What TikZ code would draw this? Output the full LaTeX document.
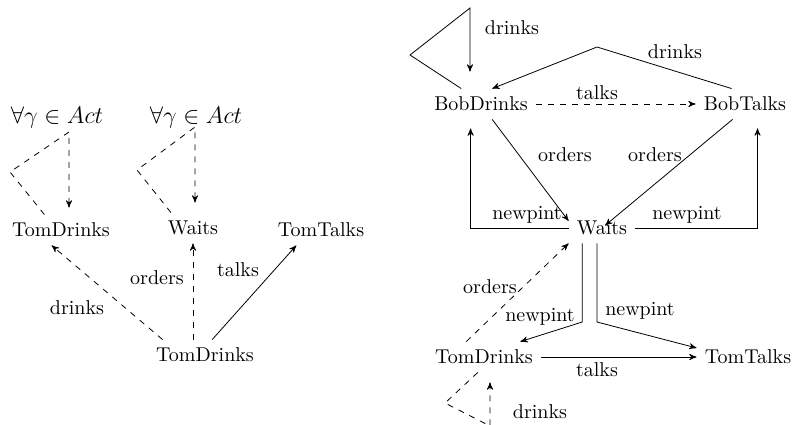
\documentclass[tikz,border=0pt]{standalone}
\usetikzlibrary{arrows}
\begin{document}
\begin{tikzpicture}[x=0.5pt,y=-0.5pt,>=stealth',
  st/.style={inner sep=4pt},
  lb/.style={inner sep=1pt}]
\clip (0,0) rectangle (795,424);

% left picture
\node[anchor=base] (actA) at (57,123) {\large $\forall\gamma\in Act$};
\node[anchor=base] (actB) at (196,123) {\large $\forall\gamma\in Act$};
\node[st] (drinksL) at (61,230) {TomDrinks};
\node[st] (waitsL) at (193,228) {Waits};
\node[st] (talksL) at (321,230) {TomTalks};
\node[st] (startL) at (205,355) {TomDrinks};

\coordinate (cA1) at (10,172); \coordinate (cA2) at (69,132);
\coordinate (cB1) at (137,170); \coordinate (cB2) at (195,127);

\draw[dashed,->,shorten >=3.5pt] (drinksL.137) -- (cA1) -- (cA2) -- (cA2 |- drinksL.north);
\draw[dashed,->,shorten >=5pt] (waitsL.145) -- (cB1) -- (cB2) -- (cB2 |- waitsL.north);
\draw[dashed,->] (startL.160) -- (drinksL.239);
\draw[dashed,->] (startL.north -| waitsL.south) -- (waitsL.south);
\draw[->] (startL.65) -- (talksL.212);

\node[lb] (lbA) at (77,308) {drinks};
\node[lb] (lbB) at (157,278) {orders};
\node[lb] (lbC) at (238,270) {talks};

% right picture
\node[st] (bobD) at (481,104) {BobDrinks};
\node[st] (bobT) at (745,104) {BobTalks};
\node[st] (waitsR) at (602,228) {Waits};
\node[st] (tomD) at (484,357) {TomDrinks};
\node[st] (tomT) at (748,357) {TomTalks};

\coordinate (cC1) at (410,55); \coordinate (cC2) at (470,8);
\coordinate (cD) at (597,47);
\coordinate (cE) at (590,322);
\coordinate (cF1) at (445,403); \coordinate (cF2) at (490,426);

\draw[->,shorten >=8.5pt] (bobD.142) -- (cC1) -- (cC2) -- (cC2 |- bobD.north);
\draw[->] (bobT.131) -- (cD) -- (bobD.54);
\draw[dashed,->] (bobD) -- (bobT);
\draw[->] (bobD.306) -- (waitsR.168);
\draw[->,shorten >=2pt] (bobT.231) -- (waitsR.center);
\draw[->,shorten >=4.5pt] (waitsR.west) -| (bobD.236);
\draw[->,shorten >=4.5pt] (waitsR.east) -| (bobT.309);
\draw[->] (waitsR.218) -- (waitsR.218 |- cE) -- (tomD.23);
\draw[->] (waitsR.252) -- (waitsR.252 |- cE) -- (tomT.170);
\draw[->] (tomD) -- (tomT);
\draw[dashed,->] (tomD.139) -- (waitsR.south west);
\draw[dashed,->,shorten >=5pt] (tomD.248) -- (cF1) -- (cF2) -- (cF2 |- tomD.south);

\node[lb] (lbD) at (512,28) {drinks};
\node[lb] (lbE) at (675,52) {drinks};
\node[lb] (lbF) at (597,93) {talks};
\node[lb] (lbG) at (565,155) {orders};
\node[lb] (lbH) at (655,155) {orders};
\node[lb] (lbI) at (527,215) {newpint};
\node[lb] (lbJ) at (687,215) {newpint};
\node[lb] (lbK) at (490,287) {orders};
\node[lb] (lbL) at (540,317) {newpint};
\node[lb] (lbM) at (640,311) {newpint};
\node[lb] (lbN) at (597,370) {talks};
\node[lb] (lbO) at (540,412) {drinks};
\end{tikzpicture}
\end{document}
